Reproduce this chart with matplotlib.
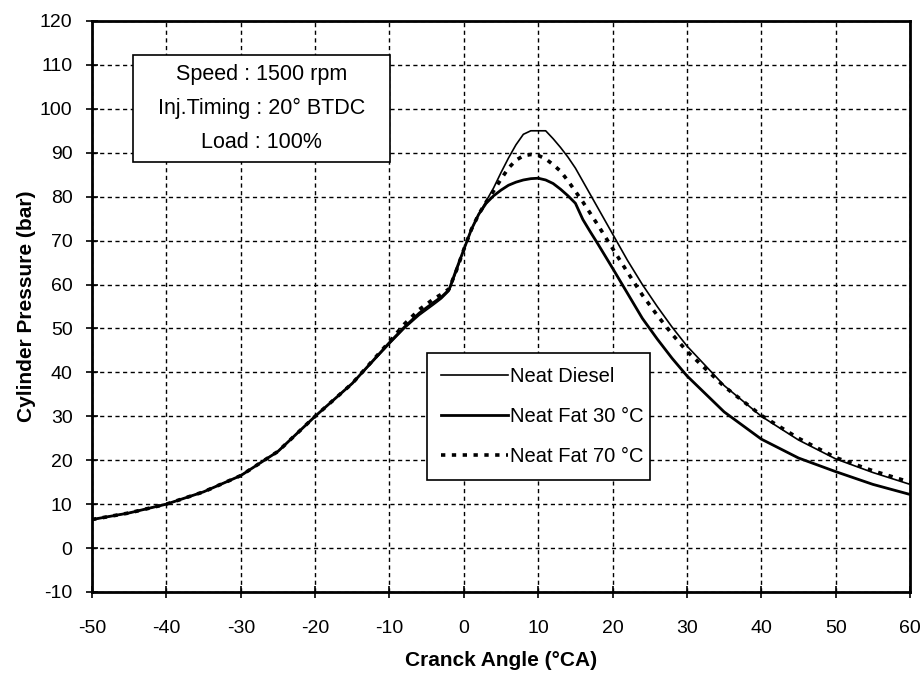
import matplotlib
matplotlib.use("Agg")
import matplotlib.pyplot as plt
from matplotlib.patches import Rectangle

plt.rcParams["font.family"] = ["Liberation Sans", "DejaVu Sans"]
plt.rcParams["axes.unicode_minus"] = False

# crank angle (°CA)
crank = [-50, -45, -40, -35, -30, -25, -20, -15, -10, -8, -6, -4, -3, -2, -1, 0, 1, 2, 3,
         4, 5, 6, 7, 8, 9, 10, 11, 12, 13, 14, 15, 16, 17, 18, 20, 22, 24, 26, 28, 30,
         35, 40, 45, 50, 55, 60]

neat_diesel = [6.5, 8.0, 10.0, 12.8, 16.5, 22.0, 30.0, 37.5, 46.5, 50.0, 53.0, 55.5, 56.8, 58.5, 63.0, 68.0, 72.5, 76.0, 79.0,
               82.0, 85.5, 88.8, 91.8, 94.2, 95.0, 95.0, 95.0, 93.2, 91.2, 89.0, 86.5, 83.5, 80.5, 77.5, 71.5, 65.5, 60.0, 55.0, 50.3, 46.0,
               37.0, 30.0, 24.6, 20.3, 17.2, 14.5]

neat_fat_30 = [6.5, 8.0, 10.0, 12.8, 16.5, 22.0, 30.0, 37.5, 46.8, 50.3, 53.5, 56.0, 57.2, 58.8, 63.5, 68.0, 72.5, 76.0, 78.5,
               80.2, 81.5, 82.6, 83.3, 83.8, 84.1, 84.2, 83.8, 83.0, 81.7, 80.2, 78.5, 74.8, 72.0, 69.3, 63.7, 58.0, 52.3, 47.6, 43.2, 39.2,
               31.0, 24.8, 20.5, 17.4, 14.5, 12.2]

neat_fat_70 = [6.5, 8.0, 10.0, 12.8, 16.5, 22.0, 30.0, 37.5, 47.0, 51.0, 54.3, 56.8, 57.8, 59.0, 63.2, 68.0, 72.5, 76.0, 78.8,
               81.3, 84.0, 86.5, 88.3, 89.3, 89.6, 89.4, 88.6, 87.3, 85.8, 83.6, 81.2, 78.8, 76.2, 73.6, 68.2, 62.8, 57.6, 53.0, 48.7, 44.8,
               36.8, 30.2, 25.0, 20.6, 17.6, 15.0]

fig = plt.figure(figsize=(9.23, 6.81), dpi=100)
ax = fig.add_axes([0.0997, 0.1307, 0.8863, 0.8385])

ax.plot(crank, neat_diesel, color="black", lw=1.2, label="Neat Diesel")
ax.plot(crank, neat_fat_30, color="black", lw=2.0, label="Neat Fat 30 °C")
ax.plot(crank, neat_fat_70, color="black", lw=2.6, linestyle=(0, (1.2, 1.8)), label="Neat Fat 70 °C")

ax.set_xlim(-50, 60)
ax.set_ylim(-10, 120)
ax.set_xticks(range(-50, 61, 10))
ax.set_yticks(range(-10, 121, 10))
ax.grid(True, color="black", linestyle=(0, (3, 2.5)), lw=1.0)
ax.tick_params(labelsize=14, direction="inout", length=8, width=1.2)
ax.tick_params(axis="x", pad=16)
ax.tick_params(axis="y", pad=10)
for s in ax.spines.values():
    s.set_linewidth(2)

ax.set_xlabel("Cranck Angle (°CA)", fontsize=15, fontweight="bold", labelpad=10)
ax.set_ylabel("Cylinder Pressure (bar)", fontsize=15, fontweight="bold", labelpad=3)

ax.add_patch(Rectangle((0.0501, 0.753), 0.3142, 0.1875, transform=ax.transAxes,
                       facecolor="white", edgecolor="black", lw=1.2, zorder=3))
ax.text(0.2072, 0.847, "Speed : 1500 rpm\nInj.Timing : 20° BTDC\nLoad : 100%",
        transform=ax.transAxes, ha="center", va="center", fontsize=15.5, linespacing=1.8, zorder=4)

leg = ax.legend(loc="upper left", bbox_to_anchor=(0.4095, 0.4186, 0.2725, 0.0), mode="expand",
                fontsize=14.5, handlelength=3.3, handletextpad=0.1, labelspacing=1.05, borderpad=0.7,
                frameon=True, fancybox=False, edgecolor="black", borderaxespad=0)
leg.get_frame().set_linewidth(1.2)
leg.get_frame().set_alpha(1)

fig.savefig("out.png", dpi=100)
